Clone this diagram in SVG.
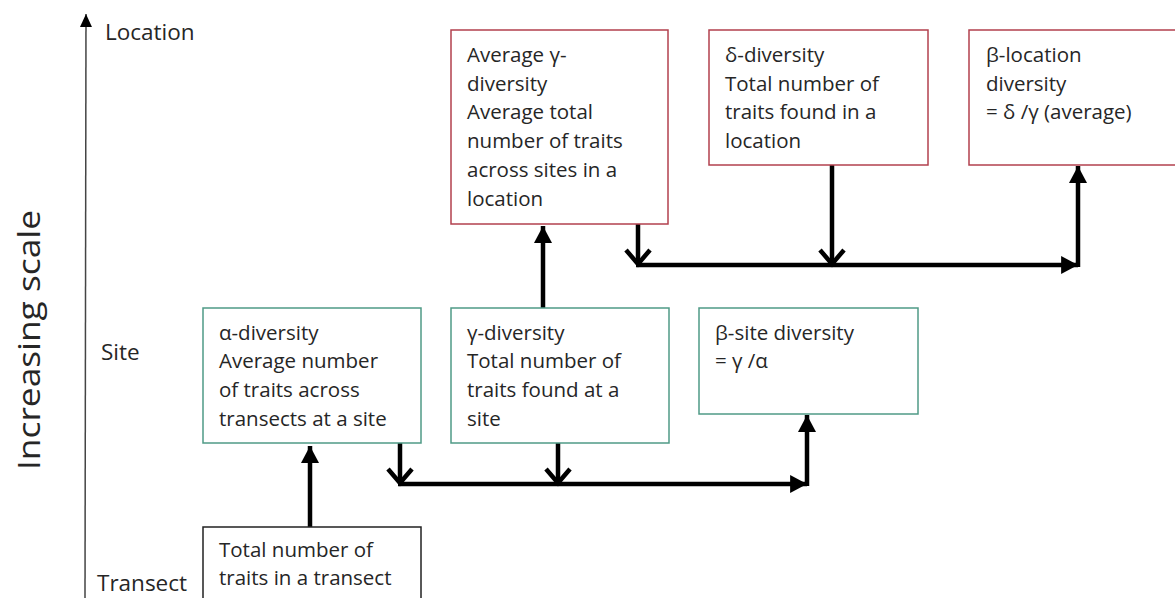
<svg xmlns="http://www.w3.org/2000/svg" width="1175" height="598" viewBox="0 0 1175 598">
<style>
text{font-family:"Open Sans","Liberation Sans",sans-serif;fill:#262626;}
.t{font-size:20.5px;}
.lvl{font-size:22.5px;}
.red{fill:#fff;stroke:#b2404e;stroke-width:1.5;}
.grn{fill:#fff;stroke:#4f9a86;stroke-width:1.5;}
.blk{fill:#fff;stroke:#222;stroke-width:1.5;}
.c{fill:none;stroke:#000;stroke-width:4.5;}
.cf{marker-end:url(#fa);}
.cv{marker-end:url(#va);}
</style>
<defs>
<marker id="fa" markerUnits="userSpaceOnUse" markerWidth="18" markerHeight="18" refX="15" refY="8" orient="auto" viewBox="0 0 16 16">
<path d="M0,0 L15,8 L0,16 z" fill="#000"/>
</marker>
<marker id="va" markerUnits="userSpaceOnUse" markerWidth="28" markerHeight="28" refX="17" refY="14" orient="auto" viewBox="0 0 28 28">
<path d="M3,2 L17,14 L3,26" fill="none" stroke="#000" stroke-width="4.5"/>
</marker>
<marker id="axa" markerUnits="userSpaceOnUse" markerWidth="14" markerHeight="14" refX="13" refY="6" orient="auto" viewBox="0 0 14 12">
<path d="M0,0 L13,6 L0,12 z" fill="#000"/>
</marker>
</defs>
<g id="axis">
<line x1="85" y1="598" x2="86" y2="14" stroke="#444" stroke-width="1.5" marker-end="url(#axa)"/>
<text transform="translate(40,470) rotate(-90)" font-size="31.5" textLength="260" lengthAdjust="spacingAndGlyphs">Increasing scale</text>
<text class="lvl" x="105" y="40">Location</text>
<text class="lvl" x="101" y="360">Site</text>
<text class="lvl" x="97" y="591">Transect</text>
</g>
<g id="connectors">
<path class="c cf" d="M310,527 L310,446"/>
<path class="c cv" d="M400,443 L400,483"/>
<path class="c cv" d="M558,443 L558,483"/>
<path class="c cf" d="M398,484 L807,484"/>
<path class="c cf" d="M807,486 L807,415"/>
<path class="c cf" d="M543,308 L543,226"/>
<path class="c cv" d="M638,224 L638,264"/>
<path class="c cv" d="M832,165 L832,264"/>
<path class="c cf" d="M636,265 L1078,265"/>
<path class="c cf" d="M1078,267 L1078,166"/>
</g>
<g id="avg-gamma">
<rect class="red" x="451" y="30" width="217" height="194"/>
<text class="t" x="467" y="62">Average γ-</text>
<text class="t" x="467" y="91">diversity</text>
<text class="t" x="467" y="119">Average total</text>
<text class="t" x="467" y="148">number  of traits</text>
<text class="t" x="467" y="177">across sites in a</text>
<text class="t" x="467" y="206">location</text>
</g>
<g id="delta">
<rect class="red" x="709" y="30" width="219" height="135"/>
<text class="t" x="725" y="62">δ-diversity</text>
<text class="t" x="725" y="91">Total number  of</text>
<text class="t" x="725" y="119">traits found in a</text>
<text class="t" x="725" y="148">location</text>
</g>
<g id="beta-location">
<rect class="red" x="969" y="30" width="220" height="135"/>
<text class="t" x="986" y="62">β-location</text>
<text class="t" x="986" y="91">diversity</text>
<text class="t" x="986" y="119">= δ /γ (average)</text>
</g>
<g id="alpha">
<rect class="grn" x="203" y="308" width="218" height="135"/>
<text class="t" x="219" y="340">α-diversity</text>
<text class="t" x="219" y="368">Average  number</text>
<text class="t" x="219" y="397">of traits across</text>
<text class="t" x="219" y="426">transects at a site</text>
</g>
<g id="gamma">
<rect class="grn" x="451" y="308" width="218" height="135"/>
<text class="t" x="467" y="340">γ-diversity</text>
<text class="t" x="467" y="368">Total number  of</text>
<text class="t" x="467" y="397">traits found at a</text>
<text class="t" x="467" y="426">site</text>
</g>
<g id="beta-site">
<rect class="grn" x="699" y="308" width="219" height="106"/>
<text class="t" x="715" y="340">β-site diversity</text>
<text class="t" x="715" y="368">= γ /α</text>
</g>
<g id="transect">
<rect class="blk" x="203" y="527" width="218" height="90"/>
<text class="t" x="219" y="557">Total number  of</text>
<text class="t" x="219" y="585">traits in a transect</text>
</g>
</svg>
